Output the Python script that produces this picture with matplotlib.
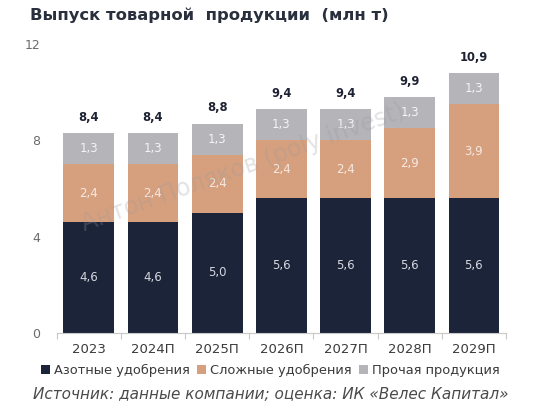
import matplotlib
matplotlib.use("Agg")
import matplotlib.pyplot as plt
import numpy as np

categories = ["2023", "2024П", "2025П", "2026П", "2027П", "2028П", "2029П"]
azot = [4.6, 4.6, 5.0, 5.6, 5.6, 5.6, 5.6]
slozh = [2.4, 2.4, 2.4, 2.4, 2.4, 2.9, 3.9]
proch = [1.3, 1.3, 1.3, 1.3, 1.3, 1.3, 1.3]
totals = [8.4, 8.4, 8.8, 9.4, 9.4, 9.9, 10.9]
series_names = ["Азотные удобрения", "Сложные удобрения", "Прочая продукция"]
yticks = [0, 4, 8, 12]

c_navy = "#1b2439"
c_tan = "#d6a07f"
c_gray = "#b5b4b9"

plt.rcParams['font.family'] = ['DejaVu Sans']

fig = plt.figure(figsize=(5.47, 4.13), dpi=100)
ax = fig.add_axes([0.1037, 0.194, 0.8213, 0.699])

x = np.arange(len(categories))
w = 0.79
a = np.array(azot); s = np.array(slozh); p = np.array(proch)
ax.bar(x, a, w, color=c_navy, label=series_names[0])
ax.bar(x, s, w, bottom=a, color=c_tan, label=series_names[1])
ax.bar(x, p, w, bottom=a + s, color=c_gray, label=series_names[2])

def fmt(v):
    return f"{v:.1f}".replace(".", ",")

for i in range(len(x)):
    ax.text(x[i], a[i] / 2, fmt(a[i]), ha="center", va="center", fontsize=8.5, color="#d5d7dd")
    ax.text(x[i], a[i] + s[i] / 2, fmt(s[i]), ha="center", va="center", fontsize=8.5, color="#f6e9e0")
    ax.text(x[i], a[i] + s[i] + p[i] / 2, fmt(p[i]), ha="center", va="center", fontsize=8.5, color="#f4f4f4")
    ax.text(x[i], a[i] + s[i] + p[i] + 0.66, fmt(totals[i]), ha="center", va="center",
            fontsize=8.3, fontweight="bold", color="#1e2233")

ax.set_xlim(-0.5, len(x) - 0.5)
ax.set_ylim(0, 12)
ax.set_yticks(yticks)
ax.set_yticklabels([str(t) for t in yticks], fontsize=9, color="#6b6b6b")
ax.set_xticks(x)
ax.set_xticklabels(categories, fontsize=9.5, color="#3a3a3a")
ax.set_xticks(np.arange(-0.5, len(x), 1), minor=True)
ax.tick_params(axis="x", which="major", length=0, pad=7)
ax.tick_params(axis="x", which="minor", length=4, color="#c8c8c8", width=0.8)
ax.tick_params(axis="y", length=0, pad=12)
for sp in ["top", "right", "left"]:
    ax.spines[sp].set_visible(False)
ax.spines["bottom"].set_color("#c8c8c8")
ax.spines["bottom"].set_linewidth(0.8)

fig.text(0.055, 0.962, "Выпуск товарной  продукции  (млн т)", fontsize=11.8, fontweight="bold",
         color="#2a2f3e", ha="left", va="center")

handles, labels = ax.get_legend_handles_labels()
fig.legend(handles, labels, loc="center", bbox_to_anchor=(0.494, 0.102), ncol=3, frameon=False,
           fontsize=9.4, handlelength=0.7, handleheight=0.7, handletextpad=0.25, columnspacing=0.6,
           labelcolor="#3a3a3a")

fig.text(0.495, 0.046, "Источник: данные компании; оценка: ИК «Велес Капитал»", fontsize=11,
         style="italic", color="#4a4a4a", ha="center", va="center")

fig.text(0.444, 0.593, "Антон Поляков (poly invest)", fontsize=17, color="#9a9a9a", alpha=0.28,
         rotation=19.5, ha="center", va="center")

fig.savefig("out.png", dpi=100)
